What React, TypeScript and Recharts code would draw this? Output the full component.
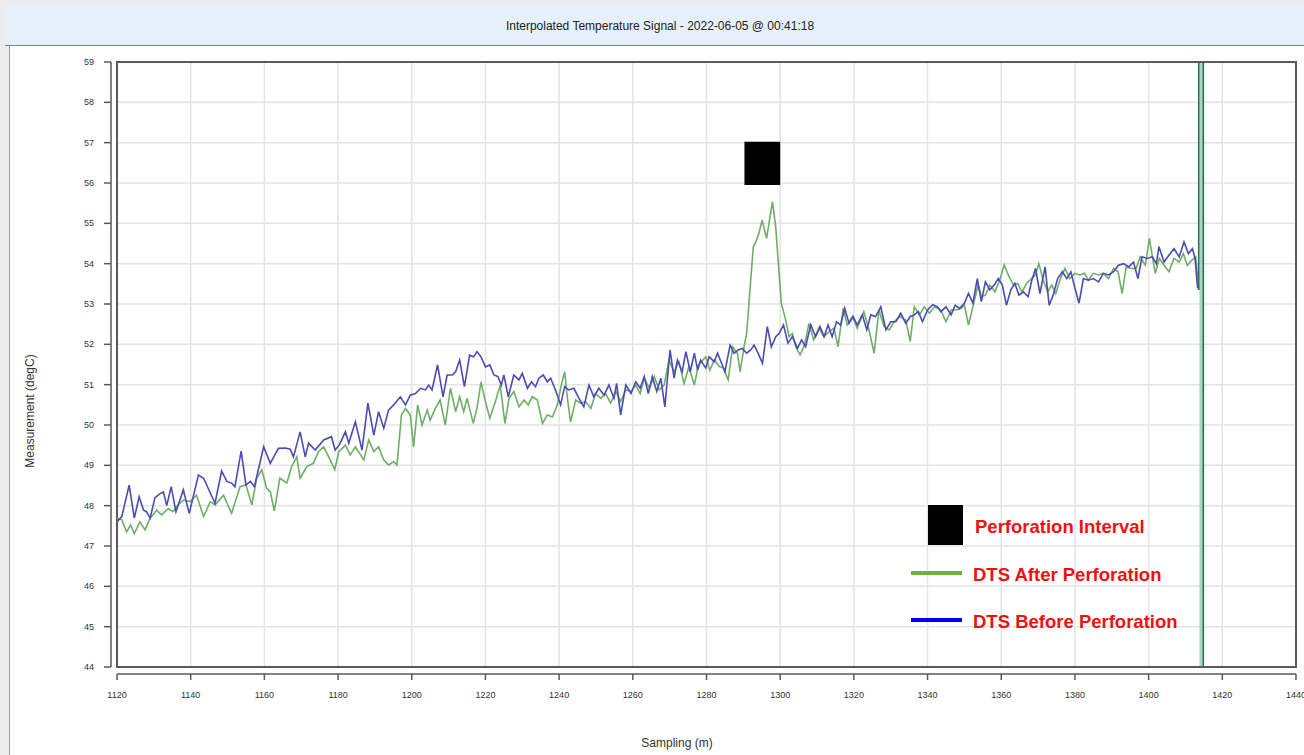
import React from 'react';
import { LineChart, Line, XAxis, YAxis, CartesianGrid, ReferenceArea, ReferenceLine } from 'recharts';

// ---- Data ----
const chartTitle = 'Interpolated Temperature Signal - 2022-06-05 @ 00:41:18';
const xLabel = 'Sampling (m)';
const yLabel = 'Measurement (degC)';

const xTicks = [1120, 1140, 1160, 1180, 1200, 1220, 1240, 1260, 1280, 1300, 1320, 1340, 1360, 1380, 1400, 1420, 1440];
const yTicks = [44, 45, 46, 47, 48, 49, 50, 51, 52, 53, 54, 55, 56, 57, 58, 59];

// Perforation interval marker: [start m, end m] and [low, high] degC
const perforationM = [1290.3, 1300];
const perforationT = [55.95, 57.02];

// DTS Before Perforation: [sampling m, degC]
const beforeData: [number, number][] = [
  [1120.0, 47.6], [1121.3, 47.73], [1123.3, 48.51], [1124.7, 47.69], [1126.0, 48.22], [1127.2, 47.89], [1128.0, 47.85],
  [1129.0, 47.69], [1130.3, 48.2], [1131.7, 48.3], [1132.6, 48.34], [1133.5, 48.0], [1134.7, 48.47], [1136.0, 47.85],
  [1138.0, 48.39], [1139.6, 47.81], [1142.1, 48.76], [1143.5, 48.68], [1146.6, 48.06], [1148.4, 48.86], [1149.8, 48.6],
  [1151.1, 48.56], [1152.0, 48.47], [1153.7, 49.35], [1155.0, 48.51], [1156.2, 48.6], [1157.3, 48.47], [1159.8, 49.46],
  [1161.6, 49.05], [1163.8, 49.42], [1165.6, 49.43], [1167.0, 49.4], [1167.9, 49.21], [1169.7, 49.83], [1171.1, 49.21],
  [1172.0, 49.55], [1173.8, 49.38], [1176.1, 49.63], [1178.2, 49.71], [1179.2, 49.38], [1180.3, 49.5], [1182.0, 49.83],
  [1182.9, 49.55], [1184.7, 50.08], [1186.5, 49.38], [1188.1, 50.54], [1189.7, 49.75], [1191.0, 50.33], [1192.4, 49.92],
  [1193.7, 50.37], [1195.5, 50.54], [1196.9, 50.7], [1198.3, 50.5], [1199.6, 50.74], [1201.0, 50.78], [1202.4, 50.91],
  [1203.7, 50.87], [1204.6, 50.99], [1205.5, 50.87], [1207.0, 51.49], [1208.5, 50.7], [1209.6, 51.24], [1211.0, 51.24],
  [1211.9, 51.32], [1213.0, 51.61], [1214.3, 50.95], [1215.7, 51.73], [1216.8, 51.69], [1217.7, 51.82], [1218.8, 51.69],
  [1220.0, 51.44], [1221.2, 51.49], [1222.3, 51.24], [1223.4, 51.2], [1224.3, 50.99], [1225.0, 51.24], [1226.2, 50.7],
  [1227.7, 51.24], [1229.1, 51.12], [1230.0, 51.28], [1231.4, 50.91], [1232.5, 51.07], [1233.6, 50.95], [1234.5, 51.16],
  [1235.7, 51.24], [1236.8, 51.07], [1237.7, 51.16], [1239.0, 50.87], [1240.4, 50.5], [1241.5, 50.95], [1242.6, 50.87],
  [1244.0, 50.91], [1245.4, 50.66], [1246.7, 50.45], [1248.1, 50.99], [1249.4, 50.7], [1250.8, 50.91], [1252.2, 50.74],
  [1253.5, 50.99], [1254.9, 50.66], [1255.6, 51.03], [1256.7, 50.25], [1258.1, 50.99], [1259.5, 50.78], [1260.8, 51.07],
  [1262.0, 50.91], [1263.1, 51.2], [1264.2, 50.78], [1265.3, 51.2], [1266.5, 50.83], [1267.6, 51.16], [1268.7, 50.45],
  [1270.1, 51.86], [1271.2, 51.16], [1272.1, 51.61], [1273.4, 51.32], [1274.4, 51.82], [1275.6, 51.32], [1276.7, 51.78],
  [1277.6, 51.36], [1278.4, 51.61], [1279.8, 51.41], [1280.7, 51.69], [1282.1, 51.57], [1283.0, 51.78], [1284.1, 51.53],
  [1285.0, 51.32], [1286.4, 51.98], [1287.5, 51.78], [1288.6, 51.86], [1289.7, 51.9], [1290.9, 51.78], [1292.0, 51.86],
  [1292.9, 51.98], [1294.0, 51.78], [1295.2, 51.53], [1296.5, 52.44], [1297.6, 51.94], [1298.8, 52.19], [1299.7, 52.27],
  [1300.9, 52.48], [1302.1, 52.03], [1303.3, 52.19], [1304.7, 51.9], [1305.8, 52.11], [1306.9, 51.94], [1308.3, 52.48],
  [1309.6, 52.19], [1310.8, 52.44], [1311.9, 52.19], [1313.0, 52.48], [1314.1, 52.19], [1315.3, 52.56], [1316.4, 52.48],
  [1317.5, 52.89], [1318.7, 52.52], [1319.8, 52.69], [1320.9, 52.48], [1322.3, 52.73], [1323.5, 52.36], [1324.6, 52.73],
  [1325.9, 52.69], [1327.3, 52.93], [1328.7, 52.36], [1330.0, 52.56], [1331.4, 52.56], [1332.7, 52.77], [1334.1, 52.52],
  [1335.3, 52.69], [1336.4, 52.73], [1337.5, 52.81], [1338.6, 52.56], [1340.0, 52.85], [1341.4, 52.98], [1342.7, 52.93],
  [1343.6, 52.81], [1345.0, 52.93], [1346.4, 52.73], [1347.5, 52.97], [1348.6, 52.89], [1350.0, 53.02], [1351.1, 53.26],
  [1352.3, 53.02], [1353.5, 53.63], [1354.6, 53.06], [1355.7, 53.55], [1356.9, 53.35], [1358.1, 53.47], [1359.2, 53.63],
  [1360.3, 53.47], [1361.4, 52.97], [1362.6, 53.35], [1363.7, 53.51], [1364.8, 53.22], [1366.0, 53.3], [1367.3, 53.18],
  [1368.2, 53.55], [1369.3, 53.88], [1370.5, 53.26], [1371.9, 53.92], [1373.0, 52.97], [1374.1, 53.22], [1375.3, 53.63],
  [1376.6, 53.8], [1377.8, 53.63], [1378.9, 53.8], [1380.0, 53.39], [1381.1, 53.02], [1382.3, 53.63], [1383.6, 53.59],
  [1385.0, 53.63], [1386.4, 53.55], [1387.7, 53.76], [1389.1, 53.72], [1390.5, 53.8], [1391.8, 53.96], [1393.2, 54.0],
  [1394.6, 53.92], [1395.9, 54.04], [1397.1, 53.63], [1398.2, 54.17], [1399.6, 54.13], [1401.0, 54.17], [1402.1, 54.0],
  [1402.8, 54.42], [1404.2, 54.04], [1405.5, 54.21], [1406.9, 54.37], [1408.3, 54.17], [1409.6, 54.54], [1410.8, 54.25],
  [1411.9, 54.37], [1412.6, 54.13], [1413.3, 53.39],
];

// DTS After Perforation: [sampling m, degC]
const afterData: [number, number][] = [
  [1120.0, 47.69], [1121.3, 47.65], [1122.6, 47.35], [1123.7, 47.52], [1124.7, 47.31], [1126.2, 47.6], [1127.6, 47.4],
  [1129.0, 47.69], [1130.8, 47.89], [1132.1, 47.77], [1133.9, 47.93], [1135.2, 47.85], [1136.6, 48.02], [1138.0, 48.14],
  [1139.8, 48.1], [1141.6, 48.26], [1143.5, 47.73], [1145.3, 48.1], [1146.6, 48.02], [1148.9, 48.26], [1151.1, 47.81],
  [1153.4, 48.47], [1155.0, 48.51], [1156.6, 48.02], [1157.9, 48.68], [1159.3, 48.89], [1160.6, 48.43], [1161.6, 48.35],
  [1162.7, 47.87], [1164.2, 48.68], [1166.1, 48.56], [1167.4, 48.97], [1168.8, 49.21], [1169.7, 48.68], [1171.5, 48.97],
  [1173.3, 49.05], [1174.7, 49.34], [1176.1, 49.46], [1177.9, 49.13], [1179.1, 48.89], [1180.2, 49.34], [1182.0, 49.5],
  [1183.3, 49.26], [1184.7, 49.46], [1187.0, 49.13], [1188.3, 49.63], [1189.7, 49.34], [1191.0, 49.46], [1192.4, 49.13],
  [1193.7, 49.01], [1195.1, 49.09], [1196.0, 49.01], [1197.2, 50.25], [1198.3, 50.41], [1199.6, 50.25], [1200.5, 49.45],
  [1201.6, 50.5], [1202.8, 50.0], [1204.2, 50.37], [1205.0, 50.12], [1206.4, 50.41], [1207.7, 50.62], [1209.1, 50.0],
  [1210.5, 50.91], [1211.9, 50.33], [1213.0, 50.7], [1214.1, 50.33], [1215.0, 50.66], [1216.7, 50.04], [1217.7, 50.41],
  [1218.8, 51.07], [1220.0, 50.58], [1221.2, 50.17], [1222.7, 50.58], [1224.0, 50.99], [1225.3, 50.04], [1226.4, 50.66],
  [1227.7, 50.83], [1229.1, 50.45], [1230.5, 50.62], [1231.6, 50.5], [1232.7, 50.7], [1234.1, 50.62], [1235.5, 50.04],
  [1236.8, 50.25], [1238.2, 50.2], [1239.5, 50.5], [1240.6, 50.99], [1241.5, 51.32], [1242.2, 50.7], [1243.1, 50.08],
  [1244.5, 50.62], [1245.8, 50.54], [1247.2, 50.58], [1248.6, 50.41], [1249.9, 50.78], [1251.3, 50.66], [1252.6, 50.78],
  [1254.0, 50.54], [1255.4, 50.83], [1256.7, 50.58], [1258.1, 50.87], [1259.5, 50.83], [1260.8, 50.99], [1262.0, 50.78],
  [1263.1, 51.16], [1264.5, 50.91], [1265.8, 51.2], [1267.2, 50.87], [1268.5, 50.99], [1269.8, 51.61], [1271.2, 51.32],
  [1272.5, 51.57], [1273.9, 51.03], [1275.2, 51.44], [1276.7, 50.99], [1277.8, 51.49], [1279.8, 51.69], [1280.9, 51.36],
  [1282.1, 51.61], [1283.5, 51.45], [1284.6, 51.41], [1285.9, 51.12], [1287.1, 51.94], [1288.4, 51.78], [1289.1, 51.32],
  [1290.2, 51.94], [1290.9, 52.27], [1291.8, 53.35], [1292.7, 54.42], [1293.4, 54.54], [1294.2, 54.75], [1295.1, 55.08],
  [1296.3, 54.63], [1297.9, 55.54], [1298.8, 54.9], [1299.7, 53.76], [1300.3, 53.02], [1301.5, 52.6], [1302.4, 52.19],
  [1303.3, 52.27], [1304.2, 51.94], [1305.4, 51.74], [1306.6, 51.98], [1307.8, 52.52], [1309.1, 52.11], [1310.5, 52.4],
  [1311.9, 52.19], [1313.2, 52.31], [1314.6, 52.4], [1315.7, 51.94], [1317.1, 52.89], [1318.2, 52.48], [1319.6, 52.69],
  [1320.9, 52.4], [1322.7, 52.81], [1324.1, 52.36], [1325.5, 51.78], [1326.8, 52.85], [1328.2, 52.44], [1329.6, 52.36],
  [1330.9, 52.56], [1332.5, 52.69], [1334.1, 52.6], [1335.3, 52.07], [1336.4, 52.93], [1337.8, 52.73], [1339.1, 52.93],
  [1340.5, 52.77], [1341.9, 52.93], [1343.6, 52.85], [1345.0, 52.56], [1346.4, 52.85], [1347.7, 52.85], [1349.1, 52.89],
  [1350.0, 52.97], [1351.1, 52.48], [1352.3, 52.93], [1353.7, 53.47], [1354.6, 53.18], [1355.7, 53.22], [1356.9, 53.47],
  [1358.3, 53.3], [1359.6, 53.59], [1360.8, 53.97], [1361.9, 53.72], [1363.3, 53.47], [1364.5, 53.51], [1365.6, 53.3],
  [1366.9, 53.51], [1368.2, 53.63], [1369.3, 53.72], [1370.2, 54.0], [1371.4, 53.59], [1372.6, 53.3], [1373.7, 53.47],
  [1374.8, 53.26], [1375.9, 53.59], [1377.3, 53.88], [1378.6, 53.63], [1380.0, 53.76], [1381.4, 53.72], [1382.6, 53.76],
  [1383.6, 53.59], [1385.0, 53.76], [1386.4, 53.72], [1387.7, 53.76], [1389.1, 53.63], [1390.5, 53.88], [1391.7, 53.8],
  [1392.8, 53.26], [1393.9, 53.92], [1395.3, 53.88], [1396.6, 53.88], [1397.7, 54.17], [1399.1, 53.96], [1400.2, 54.63],
  [1401.1, 54.13], [1401.8, 53.76], [1402.9, 54.13], [1404.2, 53.96], [1405.5, 53.8], [1406.9, 54.13], [1408.3, 54.04],
  [1409.4, 54.25], [1410.5, 53.96], [1411.7, 54.08], [1412.8, 54.17], [1413.6, 53.35],
];

// off-scale readings at the fibre end (after perforation), continuing from the last reading
const afterSpikeData: [number, number][] = [
  [1413.6, 53.35], [1413.8, 300], [1414.8, 300], [1414.9, -300],
];
const spikeBandM = [1413.8, 1414.85];

const legendItems = [
  { label: 'Perforation Interval', kind: 'box', color: '#000000' },
  { label: 'DTS After Perforation', kind: 'line', color: '#70ad47' },
  { label: 'DTS Before Perforation', kind: 'line', color: '#0000ff' },
];

const toPoints = (arr: [number, number][]) => arr.map(([m, t]) => ({ m, t }));
const beforePoints = toPoints(beforeData);
const afterPoints = toPoints(afterData);
const afterSpikePoints = toPoints(afterSpikeData);

const AXIS = '#585858';
const FONT = "'Liberation Sans', Arial, sans-serif";

const XTick = (props: any) => {
  const { x, y, payload } = props;
  return (
    <g>
      <line x1={x} x2={x} y1={y + 7} y2={y + 13} stroke={AXIS} strokeWidth={1.5} />
      <text x={x} y={y + 31} textAnchor="middle" fontSize={9} fontFamily={FONT} fill="#333">
        {payload.value}
      </text>
    </g>
  );
};

const YTick = (props: any) => {
  const { x, y, payload } = props;
  return (
    <g>
      <line x1={x - 13} x2={x - 6} y1={y} y2={y} stroke={AXIS} strokeWidth={1.5} />
      <text x={x - 23} y={y + 3} textAnchor="end" fontSize={9} fontFamily={FONT} fill="#333">
        {payload.value}
      </text>
    </g>
  );
};

export default function App() {
  return (
    <div style={{ position: 'absolute', left: 0, top: 0, width: 1304, height: 755, background: '#ececec', overflow: 'hidden' }}>
      {/* title bar */}
      <div
        style={{
          position: 'absolute', left: 5, top: 4, width: 1299, height: 42, background: '#e6f0fa',
          borderBottom: '1px solid #7d828a', boxSizing: 'border-box',
        }}
      />
      <div
        style={{
          position: 'absolute', left: 0, top: 19, width: 1320, textAlign: 'center',
          fontFamily: FONT, fontSize: 12, color: '#222', lineHeight: '14px',
        }}
      >
        {chartTitle}
      </div>
      {/* content panel */}
      <div
        style={{
          position: 'absolute', left: 9, top: 46, width: 1295, height: 709, background: '#ffffff',
          borderLeft: '1px solid #9a9a9a', boxSizing: 'border-box',
        }}
      />
      <div style={{ position: 'absolute', left: 0, top: 0 }}>
        <LineChart width={1304} height={755} margin={{ top: 62, right: 8, bottom: 0, left: 0 }}>
          <CartesianGrid stroke="#e4e4e4" strokeWidth={1.5} />
          <XAxis
            type="number"
            dataKey="m"
            domain={[1120, 1440]}
            ticks={xTicks}
            interval={0}
            allowDataOverflow
            axisLine={false}
            tickLine={false}
            tickSize={0}
            tickMargin={0}
            height={88}
            tick={<XTick />}
          />
          <YAxis
            type="number"
            dataKey="t"
            domain={[44, 59]}
            ticks={yTicks}
            interval={0}
            allowDataOverflow
            axisLine={false}
            tickLine={false}
            tickSize={0}
            tickMargin={0}
            width={117}
            tick={<YTick />}
          />
          <ReferenceLine
            y={44}
            shape={(p: any) => (
              <line x1={p.x1} x2={p.x2} y1={p.y1 + 7} y2={p.y2 + 7} stroke={AXIS} strokeWidth={1.5} />
            )}
          />
          <ReferenceLine
            x={1120}
            shape={(p: any) => (
              <line x1={p.x1 - 6} x2={p.x2 - 6} y1={p.y1} y2={p.y2} stroke={AXIS} strokeWidth={1.5} />
            )}
          />
          <ReferenceArea
            x1={perforationM[0]}
            x2={perforationM[1]}
            y1={perforationT[0]}
            y2={perforationT[1]}
            fill="#000000"
            fillOpacity={1}
            stroke="none"
          />
          <ReferenceArea
            x1={spikeBandM[0]}
            x2={spikeBandM[1]}
            y1={44}
            y2={59}
            fill="#a9d6c0"
            fillOpacity={1}
            stroke="none"
          />
          <Line
            data={afterPoints}
            dataKey="t"
            type="linear"
            stroke="#6fae68"
            strokeWidth={1.6}
            dot={false}
            isAnimationActive={false}
          />
          <Line
            data={afterSpikePoints}
            dataKey="t"
            type="linear"
            stroke="#2f6e58"
            strokeWidth={1.6}
            dot={false}
            isAnimationActive={false}
          />
          <Line
            data={beforePoints}
            dataKey="t"
            type="linear"
            stroke="#4b4cb3"
            strokeWidth={1.6}
            dot={false}
            isAnimationActive={false}
          />
          <ReferenceArea
            x1={1120}
            x2={1440}
            y1={44}
            y2={59}
            fill="none"
            stroke="#5a5a5a"
            strokeWidth={2}
          />
        </LineChart>
      </div>
      {/* overlay: axis titles and legend */}
      <svg width={1304} height={755} style={{ position: 'absolute', left: 0, top: 0, pointerEvents: 'none' }}>
        <text
          x={0}
          y={0}
          transform="translate(34 411) rotate(-90)"
          textAnchor="middle"
          fontSize={12}
          fontFamily={FONT}
          fill="#333"
        >
          {yLabel}
        </text>
        <text x={677} y={747} textAnchor="middle" fontSize={12} fontFamily={FONT} fill="#333">
          {xLabel}
        </text>
        {legendItems.map((it, i) => {
          const cy = [525, 573, 620][i];
          return (
            <g key={it.label}>
              {it.kind === 'box' ? (
                <rect x={928} y={cy - 20} width={35} height={40} fill={it.color} />
              ) : (
                <line x1={911} x2={962} y1={cy} y2={cy} stroke={it.color} strokeWidth={4} />
              )}
              <text
                x={i === 0 ? 975 : 973}
                y={cy + 8}
                fontSize={18.5}
                fontWeight="bold"
                fontFamily={FONT}
                fill="#ee1111"
              >
                {it.label}
              </text>
            </g>
          );
        })}
      </svg>
    </div>
  );
}
